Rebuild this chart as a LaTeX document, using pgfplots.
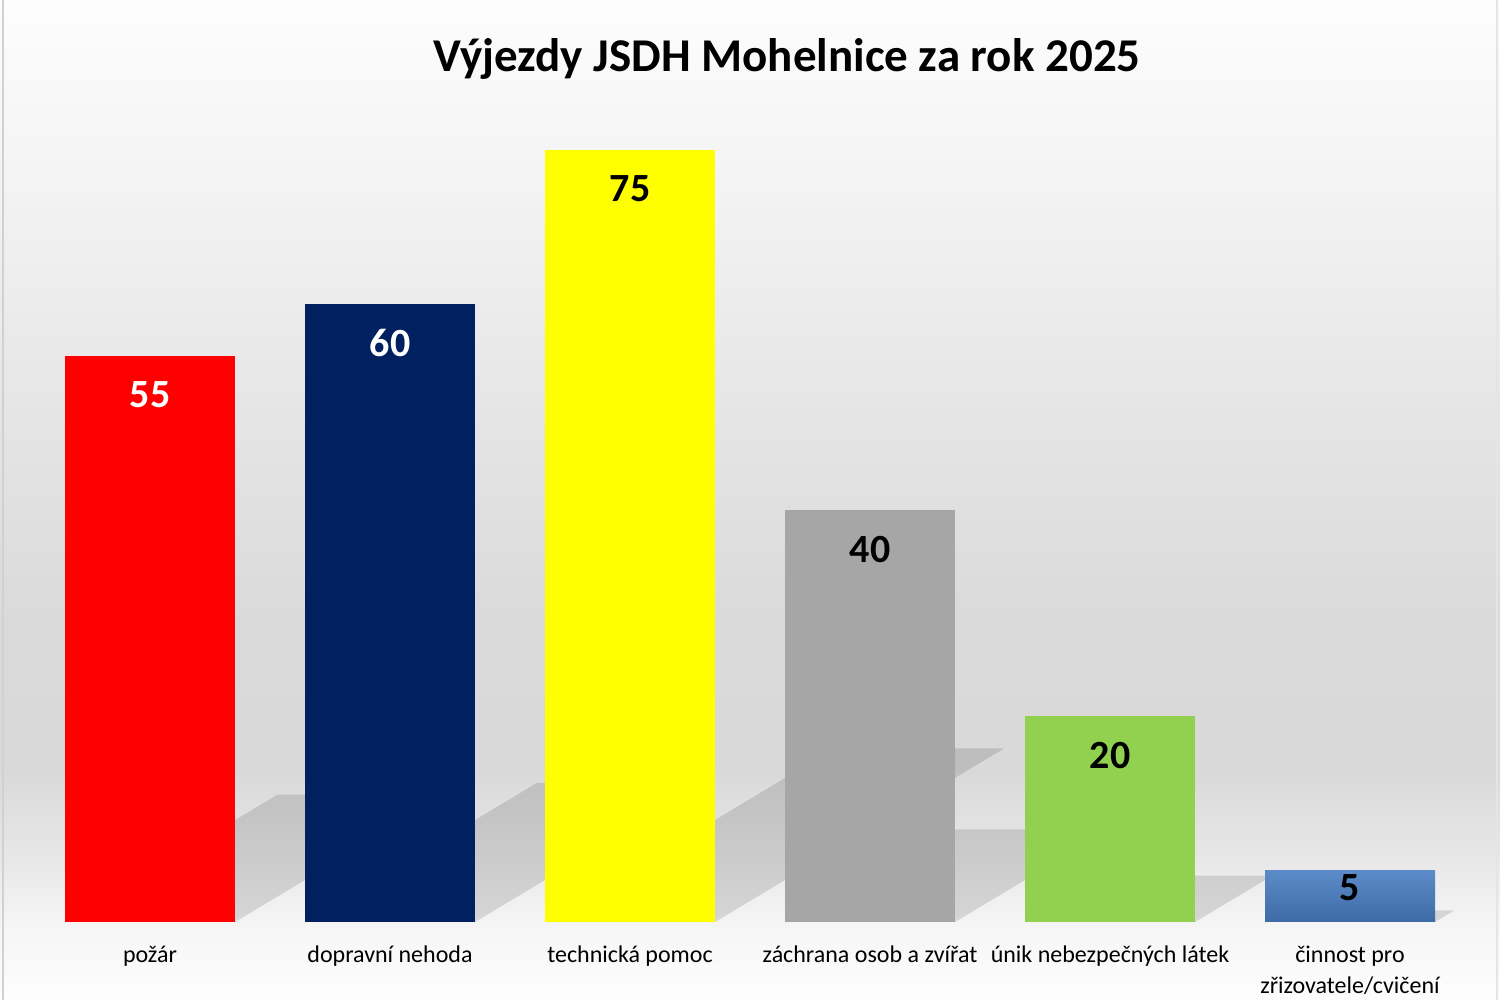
\documentclass[border=0pt]{standalone}
\usepackage{fontspec}
\setmainfont{Carlito}
\usepackage{pgfplots}
\pgfplotsset{compat=1.18}
\definecolor{g0}{HTML}{FDFDFD}
\definecolor{g1}{HTML}{F6F6F6}
\definecolor{g2}{HTML}{E6E6E6}
\definecolor{g3}{HTML}{D9D9D9}
\definecolor{g4}{HTML}{DADADA}
\definecolor{g5}{HTML}{E6E6E6}
\definecolor{g6}{HTML}{F5F5F5}
\definecolor{g7}{HTML}{FDFDFD}
\definecolor{cred}{HTML}{FF0000}
\definecolor{cnavy}{HTML}{002060}
\definecolor{cyellow}{HTML}{FFFF00}
\definecolor{cgray}{HTML}{A6A6A6}
\definecolor{cgreen}{HTML}{92D050}
\definecolor{cbluetop}{HTML}{5B8BC8}
\definecolor{cbluebot}{HTML}{3E6BA8}
\begin{document}
\begin{tikzpicture}
% background gradient
\fill[bottom color=g0, top color=g1] (0,0) rectangle (750pt,35pt);
\fill[bottom color=g1, top color=g2] (0,35pt) rectangle (750pt,75pt);
\fill[bottom color=g2, top color=g3] (0,75pt) rectangle (750pt,115pt);
\fill[bottom color=g3, top color=g4] (0,115pt) rectangle (750pt,190pt);
\fill[bottom color=g4, top color=g5] (0,190pt) rectangle (750pt,300pt);
\fill[bottom color=g5, top color=g6] (0,300pt) rectangle (750pt,425pt);
\fill[bottom color=g6, top color=g7] (0,425pt) rectangle (750pt,500pt);
\draw[color=black!18, line width=1.2pt] (1.5pt,0) -- (1.5pt,500pt);
\draw[color=black!10, line width=1pt] (748.5pt,0) -- (748.5pt,500pt);
\node[anchor=base, font=\bfseries\fontsize{23.5}{28}\selectfont] at (393.5pt,464pt) {Výjezdy JSDH Mohelnice za rok 2025};
\begin{axis}[
  at={(15pt,39pt)}, anchor=south west,
  scale only axis, width=720pt, height=411.72pt,
  xmin=-0.5, xmax=5.5, ymin=0, ymax=80,
  axis line style={draw=none},
  ymajorticks=false,
  xtick={0,1,2,3,4,5},
  xticklabels={\strut požár, \strut dopravní nehoda, \strut technická pomoc, \strut záchrana osob a zvířat, \strut únik nebezpečných látek, {\strut činnost pro\\\strut zřizovatele/cvičení}},
  xticklabel style={font=\fontsize{12}{15.5}\selectfont, align=center, yshift=-6pt},
  major tick length=0pt,
  clip=false,
  /pgf/number format/assume math mode=true,
  every node near coord/.append style={font=\bfseries\fontsize{20}{24}\selectfont, anchor=center, yshift=-19.5pt},
]
% shadows
\addplot[draw=none, fill=black, fill opacity=0.12, mark=none, forget plot] coordinates {(-0.354,0) (0.354,0) (1.239,12.375) (0.531,12.375)} -- cycle;
\addplot[draw=none, fill=black, fill opacity=0.12, mark=none, forget plot] coordinates {(0.646,0) (1.354,0) (2.319,13.5) (1.611,13.5)} -- cycle;
\addplot[draw=none, fill=black, fill opacity=0.12, mark=none, forget plot] coordinates {(1.646,0) (2.354,0) (3.560,16.875) (2.852,16.875)} -- cycle;
\addplot[draw=none, fill=black, fill opacity=0.12, mark=none, forget plot] coordinates {(2.646,0) (3.354,0) (3.997,9) (3.289,9)} -- cycle;
\addplot[draw=none, fill=black, fill opacity=0.12, mark=none, forget plot] coordinates {(3.646,0) (4.354,0) (4.676,4.5) (3.968,4.5)} -- cycle;
\addplot[draw=none, fill=black, fill opacity=0.12, mark=none, forget plot] coordinates {(4.646,0) (5.354,0) (5.434,1.125) (4.726,1.125)} -- cycle;
% bars
\addplot[ybar, bar width=85pt, bar shift=0pt, fill=cred, draw=none, nodes near coords, every node near coord/.append style={text=white}] coordinates {(0,55)};
\addplot[ybar, bar width=85pt, bar shift=0pt, fill=cnavy, draw=none, nodes near coords, every node near coord/.append style={text=white}] coordinates {(1,60)};
\addplot[ybar, bar width=85pt, bar shift=0pt, fill=cyellow, draw=none, nodes near coords, every node near coord/.append style={text=black}] coordinates {(2,75)};
\addplot[ybar, bar width=85pt, bar shift=0pt, fill=cgray, draw=none, nodes near coords, every node near coord/.append style={text=black}] coordinates {(3,40)};
\addplot[ybar, bar width=85pt, bar shift=0pt, fill=cgreen, draw=none, nodes near coords, every node near coord/.append style={text=black}] coordinates {(4,20)};
\addplot[ybar, bar width=85pt, bar shift=0pt, top color=cbluetop, bottom color=cbluebot, draw=none, nodes near coords, every node near coord/.append style={text=black, yshift=11pt}] coordinates {(5,5)};
\end{axis}
\pgfresetboundingbox
\path[use as bounding box] (0,0) rectangle (750pt,500pt);
\end{tikzpicture}
\end{document}
